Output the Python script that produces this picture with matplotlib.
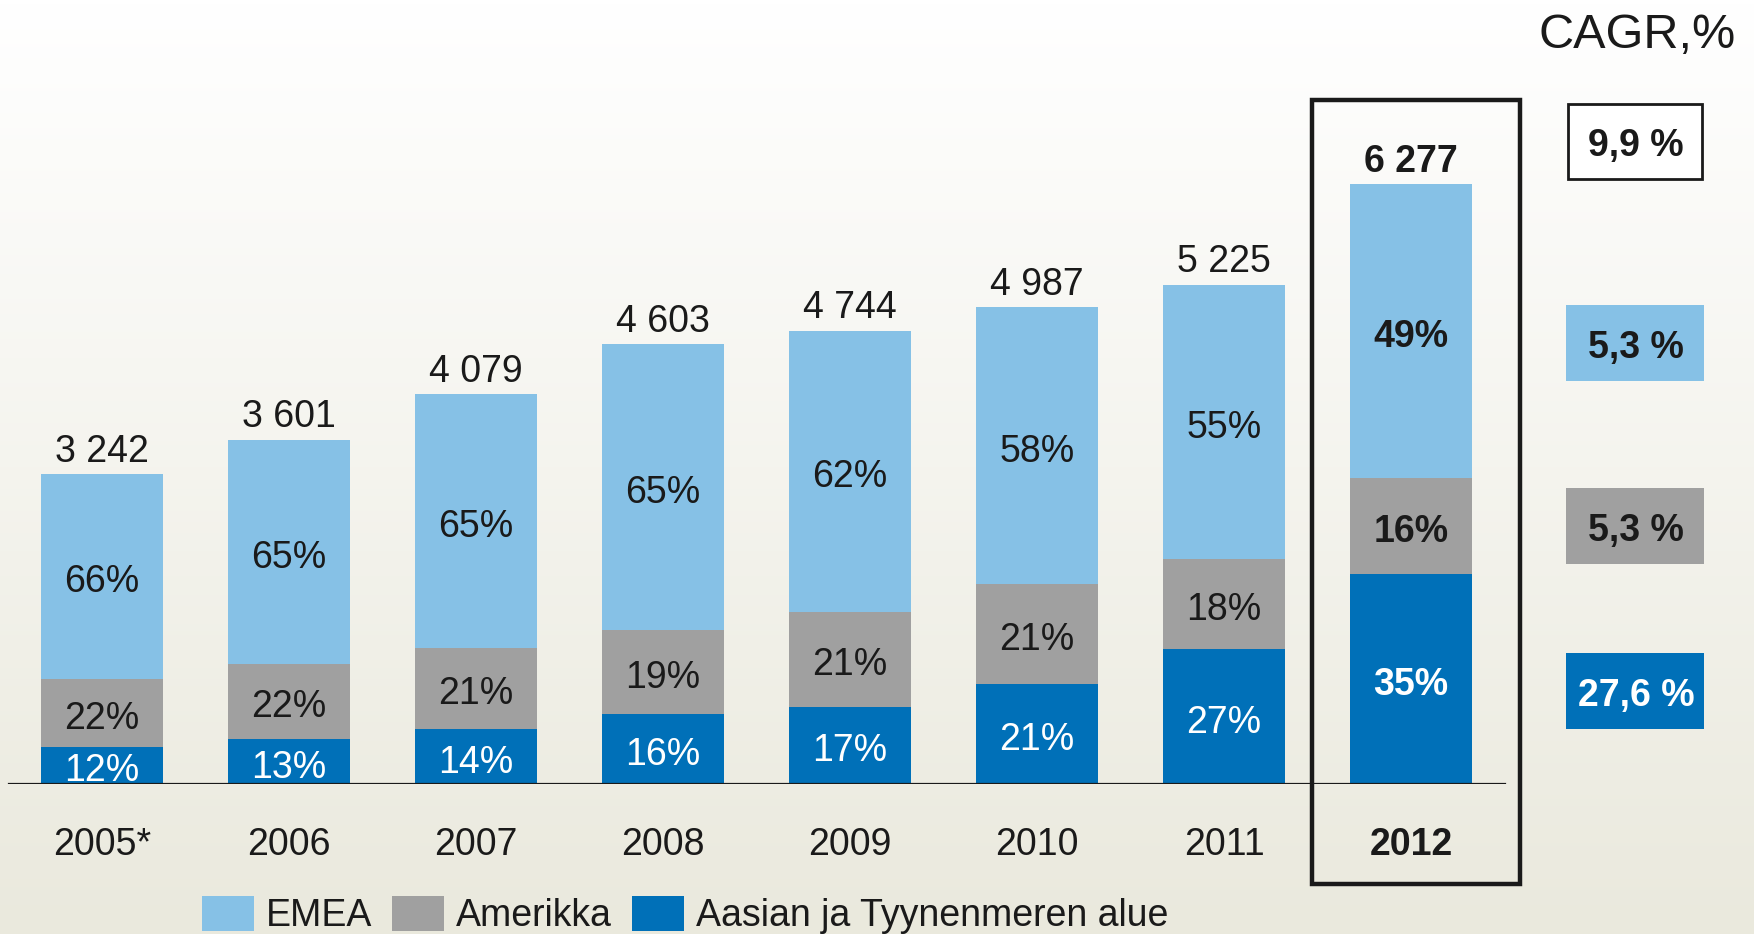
import matplotlib
matplotlib.use('Agg')
import matplotlib.pyplot as plt
import numpy as np
from matplotlib.patches import Rectangle

plt.rcParams['font.family'] = ['Liberation Sans', 'DejaVu Sans']

# ---------------- data ----------------
years = ['2005*', '2006', '2007', '2008', '2009', '2010', '2011', '2012']
totals = [3242, 3601, 4079, 4603, 4744, 4987, 5225, 6277]
total_labels = ['3 242', '3 601', '4 079', '4 603', '4 744', '4 987', '5 225', '6 277']
asia_pct = [12, 13, 14, 16, 17, 21, 27, 35]
amer_pct = [22, 22, 21, 19, 21, 21, 18, 16]
emea_pct = [66, 65, 65, 65, 62, 58, 55, 49]
series_names = ['EMEA', 'Amerikka', 'Aasian ja Tyynenmeren alue']
cagr_title = 'CAGR,%'
cagr_labels = ['9,9 %', '5,3 %', '5,3 %', '27,6 %']

# ---------------- style ----------------
C_EMEA = '#86c1e6'
C_AMER = '#a0a0a0'
C_ASIA = '#0070b8'
C_TXT = '#1a1a1a'
W, H = 1754, 934
FS = 27

fig = plt.figure(figsize=(W / 100, H / 100), dpi=100)

def fx(px):
    return px / W

def fy(py):
    return 1 - py / H

# background gradient
bg = fig.add_axes([0, 0, 1, 1], zorder=-10)
grad = np.linspace(0, 1, 256)[:, None]
top = np.array([1.0, 1.0, 1.0])
bot = np.array([234, 233, 221]) / 255
img = top[None, None, :] * (1 - grad[:, :, None]) + bot[None, None, :] * grad[:, :, None]
bg.imshow(img, aspect='auto', extent=[0, 1, 0, 1], origin='upper')
bg.set_axis_off()

# main axes
base_y = 784
ax = fig.add_axes([0, (H - base_y) / H, 1, base_y / H])
ax.patch.set_alpha(0)
spacing = 187.0
x0 = 102.0
ax.set_xlim(-x0 / spacing, (W - x0) / spacing)
ax.set_ylim(0, base_y / (600.0 / 6277))
for s in ax.spines.values():
    s.set_visible(False)
ax.set_yticks([])

x = np.arange(len(years))
totals_a = np.array(totals, dtype=float)
asia = totals_a * np.array(asia_pct) / 100
amer = totals_a * np.array(amer_pct) / 100
emea = totals_a * np.array(emea_pct) / 100
bw = 122 / spacing

b_asia = ax.bar(x, asia, bw, color=C_ASIA, label=series_names[2], zorder=2)
b_amer = ax.bar(x, amer, bw, bottom=asia, color=C_AMER, label=series_names[1], zorder=2)
b_emea = ax.bar(x, emea, bw, bottom=asia + amer, color=C_EMEA, label=series_names[0], zorder=2)

n = len(years)
off = (0, -4.3)
for i in range(n):
    wt = 'bold' if i == n - 1 else 'normal'
    ax.annotate(f'{asia_pct[i]}%', (x[i], asia[i] / 2), xytext=off, textcoords='offset points',
                ha='center', va='center', fontsize=FS, color='white', fontweight=wt, zorder=3)
    ax.annotate(f'{amer_pct[i]}%', (x[i], asia[i] + amer[i] / 2), xytext=off, textcoords='offset points',
                ha='center', va='center', fontsize=FS, color=C_TXT, fontweight=wt, zorder=3)
    ax.annotate(f'{emea_pct[i]}%', (x[i], asia[i] + amer[i] + emea[i] / 2), xytext=off,
                textcoords='offset points', ha='center', va='center', fontsize=FS, color=C_TXT,
                fontweight=wt, zorder=3)
    ax.annotate(total_labels[i], (x[i], totals[i]), xytext=(0, 9), textcoords='offset points',
                ha='center', va='baseline', fontsize=FS, color=C_TXT, fontweight=wt)

# baseline
ax.axhline(0, xmin=9 / W, xmax=1505 / W, color=C_TXT, lw=1.6, zorder=4)

# x tick labels
ax.set_xticks(x, years)
ax.tick_params(axis='x', length=0, pad=31, labelsize=FS, labelcolor=C_TXT)
ax.get_xticklabels()[-1].set_fontweight('bold')

# highlight rectangle around 2012
fig.patches.append(Rectangle((fx(1312), fy(884)), fx(1520) - fx(1312), fy(100) - fy(884),
                             transform=fig.transFigure, fill=False, edgecolor=C_TXT, lw=3.2, zorder=5))

# CAGR title and boxes
fig.text(fx(1637), fy(36), cagr_title, ha='center', va='center', fontsize=35, color=C_TXT)
boxes = [(103, 180, 'none', C_TXT), (305, 381, C_EMEA, C_TXT), (488, 564, C_AMER, C_TXT), (653, 729, C_ASIA, 'white')]
for (y1, y2, fc, tc), lab in zip(boxes, cagr_labels):
    if fc == 'none':
        r = Rectangle((fx(1568), fy(y2 - 1)), fx(1702) - fx(1568), fy(y1 + 1) - fy(y2 - 1),
                      transform=fig.transFigure, facecolor='white', edgecolor=C_TXT, lw=2)
    else:
        r = Rectangle((fx(1566), fy(y2)), fx(1704) - fx(1566), fy(y1) - fy(y2),
                      transform=fig.transFigure, facecolor=fc, edgecolor='none')
    fig.patches.append(r)
    fig.text(fx(1636), fy((y1 + y2) / 2 + 5), lab, ha='center', va='center',
             fontsize=FS, fontweight='bold', color=tc)

# legend
ax.legend(handles=[b_emea, b_amer, b_asia], labels=series_names, loc='lower left',
          bbox_to_anchor=(fx(202), 0.0), bbox_transform=fig.transFigure, ncol=3,
          frameon=False, borderpad=0, borderaxespad=0, handlelength=1.39, handleheight=1.07,
          handletextpad=0.32, columnspacing=0.52, fontsize=FS, labelcolor=C_TXT)

fig.savefig('out.png', dpi=100)
